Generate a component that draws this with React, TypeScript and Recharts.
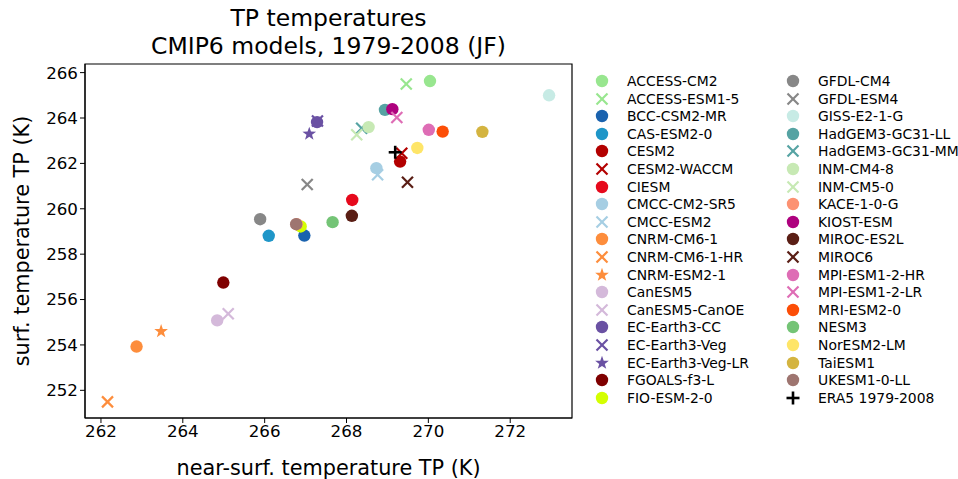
import { ScatterChart, Scatter, XAxis, YAxis, ReferenceArea } from 'recharts';

const models = [
  'ACCESS-CM2', 'ACCESS-ESM1-5', 'BCC-CSM2-MR', 'CAS-ESM2-0', 'CESM2', 'CESM2-WACCM', 'CIESM',
  'CMCC-CM2-SR5', 'CMCC-ESM2', 'CNRM-CM6-1', 'CNRM-CM6-1-HR', 'CNRM-ESM2-1', 'CanESM5', 'CanESM5-CanOE',
  'EC-Earth3-CC', 'EC-Earth3-Veg', 'EC-Earth3-Veg-LR', 'FGOALS-f3-L', 'FIO-ESM-2-0',
  'GFDL-CM4', 'GFDL-ESM4', 'GISS-E2-1-G', 'HadGEM3-GC31-LL', 'HadGEM3-GC31-MM', 'INM-CM4-8', 'INM-CM5-0',
  'KACE-1-0-G', 'KIOST-ESM', 'MIROC-ES2L', 'MIROC6', 'MPI-ESM1-2-HR', 'MPI-ESM1-2-LR', 'MRI-ESM2-0',
  'NESM3', 'NorESM2-LM', 'TaiESM1', 'UKESM1-0-LL', 'ERA5 1979-2008',
];

const markers = [
  'o', 'x', 'o', 'o', 'o', 'x', 'o',
  'o', 'x', 'o', 'x', '*', 'o', 'x',
  'o', 'x', '*', 'o', 'o',
  'o', 'x', 'o', 'o', 'x', 'o', 'x',
  'o', 'o', 'o', 'x', 'o', 'x', 'o',
  'o', 'o', 'o', 'o', '+',
];

const colors = [
  '#98e68f', '#98e68f', '#1a62ae', '#1f96c8', '#b30000', '#b30000', '#e6091c',
  '#a6cee3', '#a6cee3', '#fd8d3c', '#fd8d3c', '#fd8d3c', '#d4b9da', '#d4b9da',
  '#6a51a3', '#6a51a3', '#6a51a3', '#7f0000', '#d4ff00',
  '#878787', '#878787', '#c7ebe5', '#56a3a3', '#56a3a3', '#c7e9b4', '#c7e9b4',
  '#fc9272', '#ae017e', '#5a1e15', '#5a1e15', '#de6db5', '#de6db5', '#fc4e07',
  '#74c476', '#fee568', '#d4b440', '#9e7570', '#000000',
];

// near-surface temperature (x) and surface temperature (y), K
const nearSurfTemp = [
  270.04, 269.46, 266.97, 266.1, 269.31, 269.35, 268.14,
  268.73, 268.76, 262.87, 262.16, 263.47, 264.84, 265.11,
  267.28, 267.29, 267.09, 264.99, 266.88,
  265.89, 267.04, 272.95, 268.94, 268.37, 268.54, 268.25,
  266.78, 269.12, 268.13, 269.49, 270.01, 269.23, 270.35,
  267.66, 269.73, 271.32, 266.77, 269.19,
];

const surfTemp = [
  265.63, 265.5, 258.82, 258.81, 262.08, 262.45, 260.39,
  261.79, 261.5, 253.93, 251.49, 254.6, 255.08, 255.37,
  263.82, 263.87, 263.3, 256.75, 259.22,
  259.54, 261.07, 265.0, 264.36, 263.55, 263.6, 263.26,
  259.32, 264.39, 259.69, 261.17, 263.48, 264.02, 263.4,
  259.41, 262.68, 263.39, 259.32, 262.49,
];

const xTicks = [262, 264, 266, 268, 270, 272];
const yTicks = [252, 254, 256, 258, 260, 262, 264, 266];

const X_MIN = 261.61;
const X_MAX = 273.51;
const Y_MIN = 250.78;
const Y_MAX = 266.38;

const font = '"DejaVu Sans", sans-serif';

function MarkerShape({ cx, cy, kind, color }: { cx: number; cy: number; kind: string; color: string }) {
  if (kind === 'x') {
    const a = 5.5;
    return (
      <g stroke={color} strokeWidth={2.2}>
        <line x1={cx - a} y1={cy - a} x2={cx + a} y2={cy + a} />
        <line x1={cx - a} y1={cy + a} x2={cx + a} y2={cy - a} />
      </g>
    );
  }
  if (kind === '+') {
    const a = 6.5;
    return (
      <g stroke={color} strokeWidth={2.6}>
        <line x1={cx - a} y1={cy} x2={cx + a} y2={cy} />
        <line x1={cx} y1={cy - a} x2={cx} y2={cy + a} />
      </g>
    );
  }
  if (kind === '*') {
    const pts: string[] = [];
    for (let i = 0; i < 10; i++) {
      const r = i % 2 === 0 ? 7.2 : 2.9;
      const ang = -Math.PI / 2 + (i * Math.PI) / 5;
      pts.push(`${cx + r * Math.cos(ang)},${cy + r * Math.sin(ang)}`);
    }
    return <polygon points={pts.join(' ')} fill={color} />;
  }
  return <circle cx={cx} cy={cy} r={6.2} fill={color} />;
}

function ModelLegend() {
  const perCol = 19;
  return (
    <div style={{ position: 'absolute', left: 590, top: 72, width: 370, height: 360, fontFamily: font, fontSize: 13.9 }}>
      {models.map((m, i) => {
        const col = i < perCol ? 0 : 1;
        const row = col === 0 ? i : i - perCol;
        return (
          <div
            key={m}
            style={{
              position: 'absolute',
              left: col * 191,
              top: row * 17.6,
              height: 18,
              display: 'flex',
              alignItems: 'center',
              whiteSpace: 'nowrap',
              color: '#000',
            }}
          >
            <svg width={24} height={18} style={{ marginRight: 13 }}>
              <MarkerShape cx={12} cy={9} kind={markers[i]} color={colors[i]} />
            </svg>
            {m}
          </div>
        );
      })}
    </div>
  );
}

const titleLine = {
  position: 'absolute' as const,
  left: 85,
  width: 487,
  height: 25,
  textAlign: 'center' as const,
  fontSize: 23.5,
  lineHeight: '25px',
  color: '#000',
  whiteSpace: 'nowrap' as const,
};

export default function App() {
  return (
    <div style={{ position: 'absolute', left: 0, top: 0, width: 958, height: 479, background: '#fff', fontFamily: font }}>
      <div style={{ ...titleLine, top: 6 }}>TP temperatures</div>
      <div style={{ ...titleLine, top: 33.5 }}>CMIP6 models, 1979-2008 (JF)</div>
      <ScatterChart width={958} height={479} margin={{ top: 64, right: 386, bottom: 0, left: 0 }}>
        <XAxis
          type="number"
          dataKey="x"
          domain={[X_MIN, X_MAX]}
          ticks={xTicks}
          allowDataOverflow
          height={61}
          tickSize={5}
          stroke="#000"
          tick={{ fill: '#000', fontSize: 16.7, fontFamily: font }}
          label={{ value: 'near-surf. temperature TP (K)', position: 'insideBottom', offset: 4, fill: '#000', fontSize: 20.8, fontFamily: font }}
        />
        <YAxis
          type="number"
          dataKey="y"
          domain={[Y_MIN, Y_MAX]}
          ticks={yTicks}
          allowDataOverflow
          width={85}
          tickSize={5}
          stroke="#000"
          tick={{ fill: '#000', fontSize: 16.7, fontFamily: font }}
          label={{ value: 'surf. temperature TP (K)', angle: -90, position: 'insideLeft', offset: 22, fill: '#000', fontSize: 20.8, fontFamily: font, style: { textAnchor: 'middle' } }}
        />
        <ReferenceArea x1={X_MIN} x2={X_MAX} y1={Y_MIN} y2={Y_MAX} fill="none" stroke="#000" strokeWidth={1.2} fillOpacity={0} />
        {models.map((m, i) => (
          <Scatter
            key={m}
            name={m}
            data={[{ x: nearSurfTemp[i], y: surfTemp[i] }]}
            isAnimationActive={false}
            shape={(p: any) => <MarkerShape cx={p.cx} cy={p.cy} kind={markers[i]} color={colors[i]} />}
          />
        ))}
      </ScatterChart>
      <ModelLegend />
    </div>
  );
}
